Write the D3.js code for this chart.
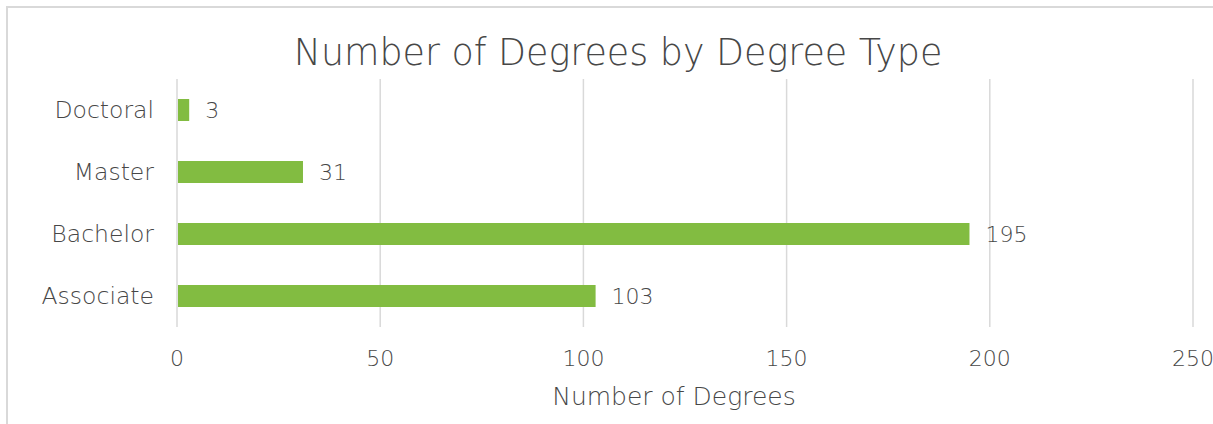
<!DOCTYPE html>
<html>
<head>
<meta charset="utf-8">
<script src="https://cdn.jsdelivr.net/npm/d3@7"></script>
<style>
  html, body { margin: 0; padding: 0; background: #fff; }
  svg { display: block; }
  text { font-family: "DejaVu Sans", sans-serif; fill: #474747; font-weight: 200; }
</style>
</head>
<body>
<svg id="chart" width="1213" height="424"></svg>
<script>
// Degree counts by type (top to bottom as drawn)
const categories = ["Doctoral", "Master", "Bachelor", "Associate"];
const counts = [3, 31, 195, 103];
const xTicks = [0, 50, 100, 150, 200, 250];
const chartTitle = "Number of Degrees by Degree Type";
const xAxisTitle = "Number of Degrees";

const svg = d3.select("#chart");
const W = 1213, H = 424;
const plot = { left: 177, right: 1193, top: 79, bottom: 327 };

// chart frame
svg.append("rect")
  .attr("x", 7).attr("y", 7)
  .attr("width", W + 40).attr("height", H + 40)
  .attr("fill", "none").attr("stroke", "#d9d9d9").attr("stroke-width", 2);

const x = d3.scaleLinear().domain([0, 250]).range([plot.left, plot.right]);
const y = d3.scaleBand().domain(categories).range([plot.top, plot.bottom]).paddingInner(0.645).paddingOuter(0.3225);

// vertical gridlines
svg.append("g").selectAll("line").data(xTicks).join("line")
  .attr("x1", d => x(d)).attr("x2", d => x(d))
  .attr("y1", plot.top).attr("y2", plot.bottom)
  .attr("stroke", "#d9d9d9").attr("stroke-width", 1.5);

// bars
svg.append("g").selectAll("rect").data(categories).join("rect")
  .attr("x", x(0) + 1)
  .attr("y", d => y(d))
  .attr("width", (d, i) => x(counts[i]) - x(0) - 1)
  .attr("height", y.bandwidth())
  .attr("fill", "#82bc41");

// value labels
svg.append("g").selectAll("text").data(categories).join("text")
  .attr("x", (d, i) => x(counts[i]) + 16)
  .attr("y", d => y(d) + y.bandwidth() / 2 + 8)
  .attr("font-size", 22)
  .text((d, i) => counts[i]);

// category labels
svg.append("g").selectAll("text").data(categories).join("text")
  .attr("x", 154)
  .attr("y", d => y(d) + y.bandwidth() / 2 + 8)
  .attr("text-anchor", "end")
  .attr("font-size", 23.5)
  .text(d => d);

// x tick labels
svg.append("g").selectAll("text").data(xTicks).join("text")
  .attr("x", d => x(d))
  .attr("y", 366)
  .attr("text-anchor", "middle")
  .attr("font-size", 22)
  .text(d => d);

// axis title
svg.append("text")
  .attr("x", 674).attr("y", 405)
  .attr("text-anchor", "middle")
  .attr("font-size", 25)
  .text(xAxisTitle);

// chart title
svg.append("text")
  .attr("x", 618).attr("y", 65)
  .attr("text-anchor", "middle")
  .attr("font-size", 36.4)
  .text(chartTitle);
</script>
</body>
</html>
